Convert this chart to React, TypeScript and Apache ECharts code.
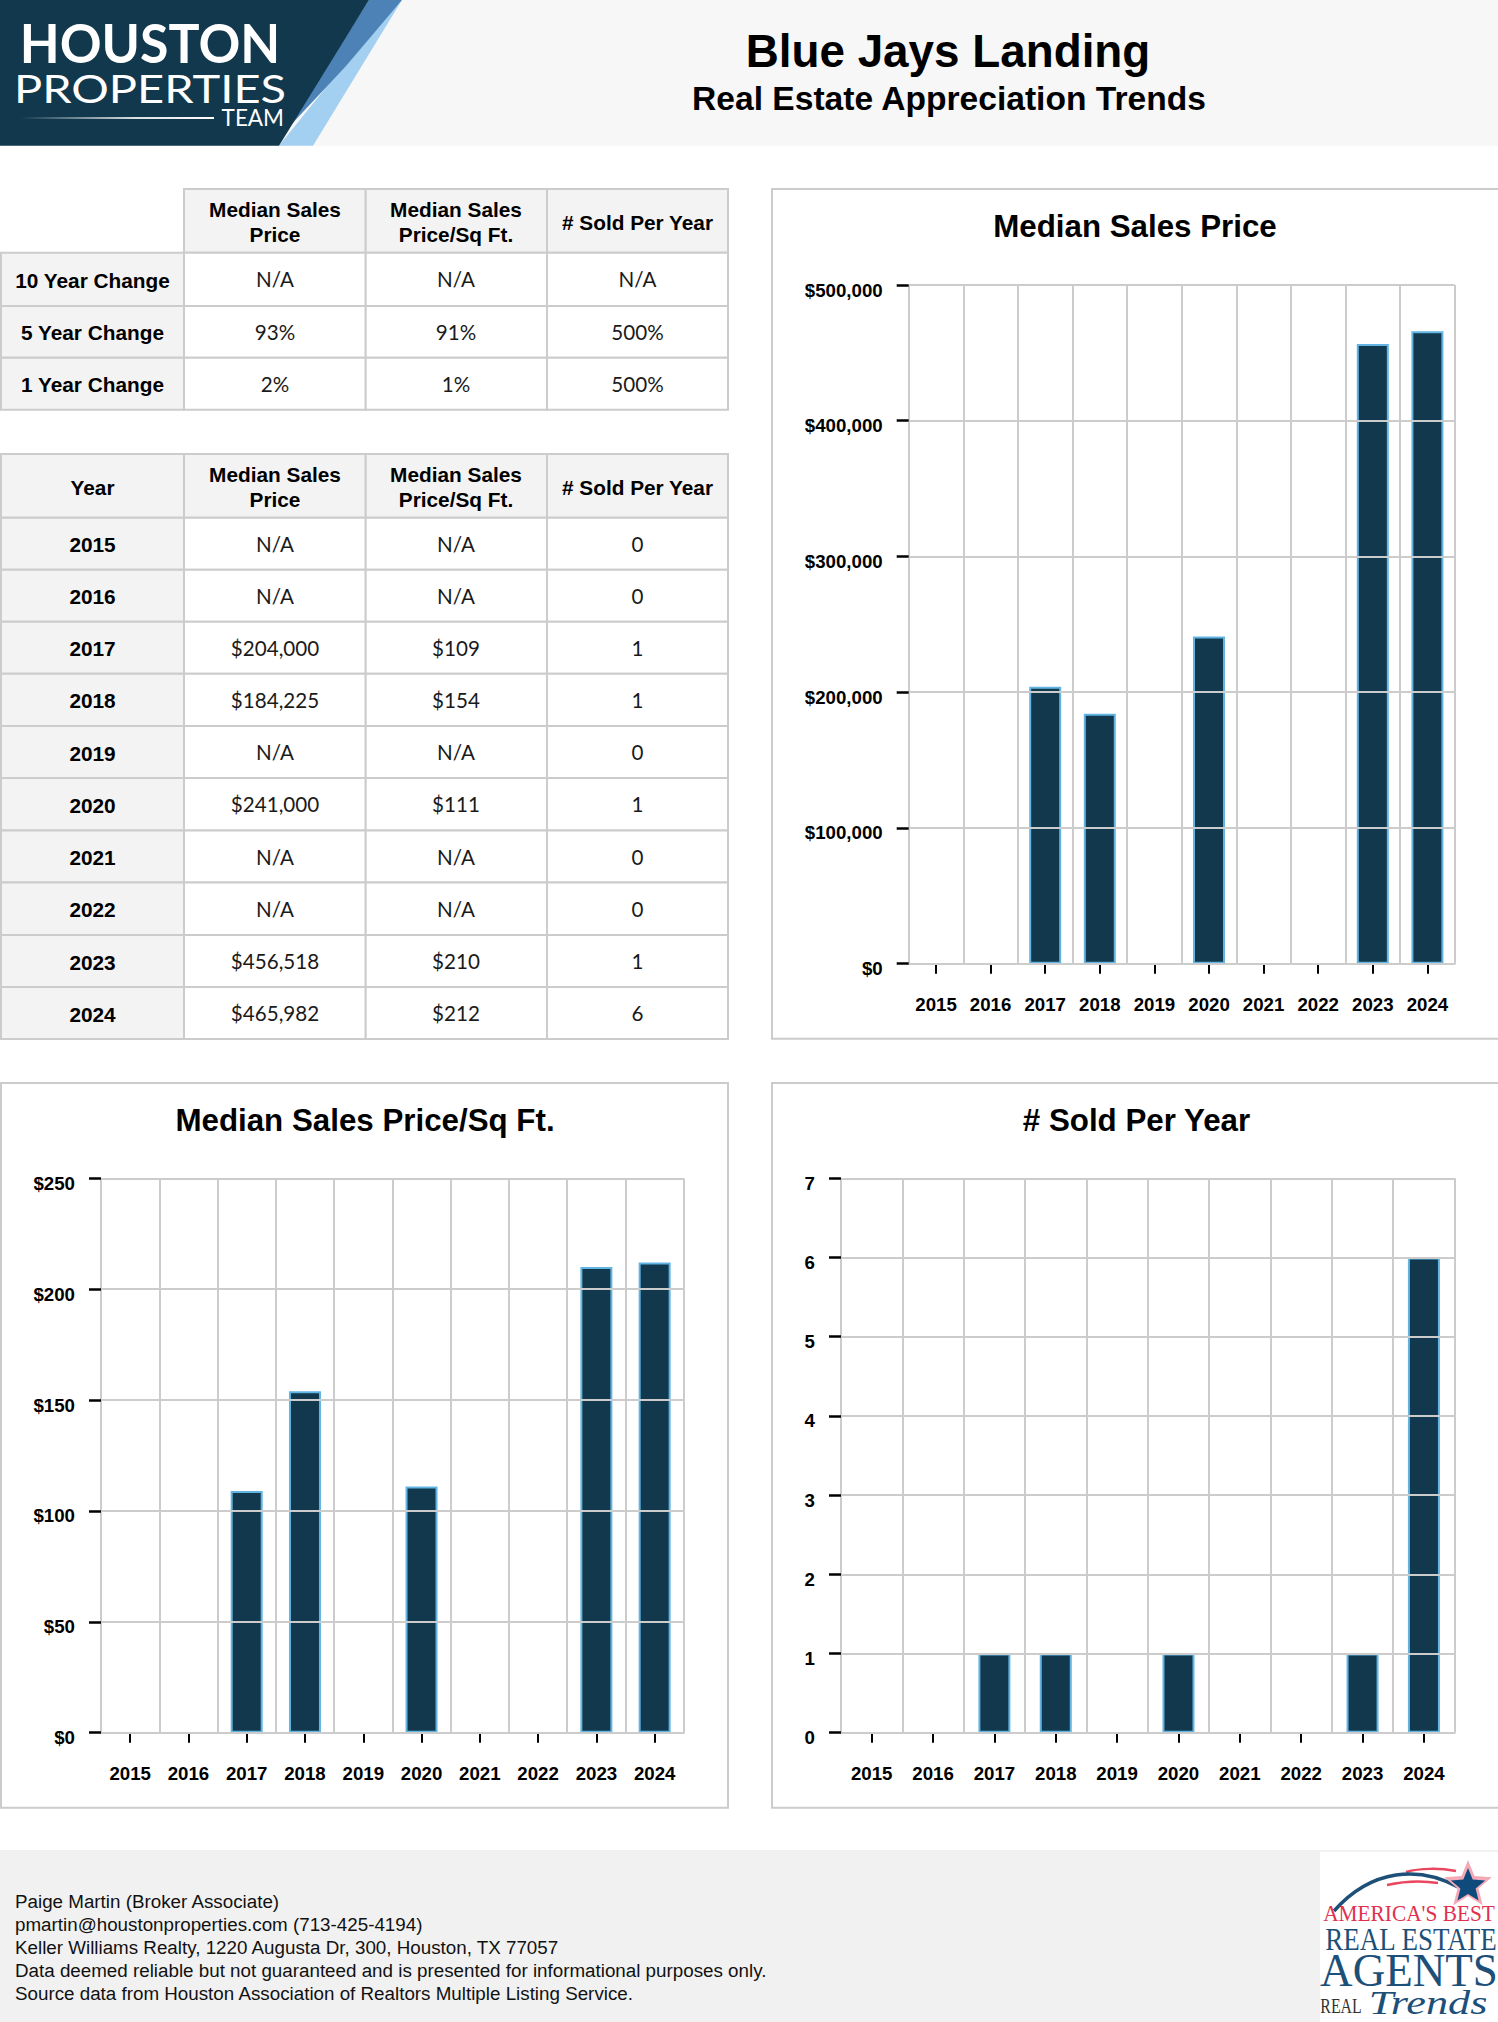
import React, { useEffect, useRef } from "react";
import * as echarts from "echarts";

const years = ["2015", "2016", "2017", "2018", "2019", "2020", "2021", "2022", "2023", "2024"];
const medianPrice = [null, null, 204000, 184225, null, 241000, null, null, 456518, 465982];
const pricePerSqFt = [null, null, 109, 154, null, 111, null, null, 210, 212];
const soldPerYear = [0, 0, 1, 1, 0, 1, 0, 0, 1, 6];
const changeLabels = ["10 Year Change", "5 Year Change", "1 Year Change"];
const changePrice = ["N/A", "93%", "2%"];
const changeSqFt = ["N/A", "91%", "1%"];
const changeSold = ["N/A", "500%", "500%"];
const footerLines = [
  "Paige Martin (Broker Associate)",
  "pmartin@houstonproperties.com (713-425-4194)",
  "Keller Williams Realty, 1220 Augusta Dr, 300, Houston, TX 77057",
  "Data deemed reliable but not guaranteed and is presented for informational purposes only.",
  "Source data from Houston Association of Realtors Multiple Listing Service.",
];

const SANS = "'Liberation Sans', Arial, sans-serif";
const LATO = "Lato, sans-serif";
const SERIF = "'Liberation Serif', serif";
const GRID = "#cccccc";
const NAVY = "#11384d";
const EDGE = "#62b5e3";
const CELL = "#f3f3f3";
const colX = [1, 184, 365.7, 547, 728];
const colC = [92.5, 275, 456, 637.5];

const money = (v: number | null) => (v == null ? "N/A" : "$" + v.toLocaleString("en-US"));

function txt(text: string, x: number, y: number, size: number, o: any = {}) {
  const { scaleX, weight, family, fill, align, italic, ...rest } = o;
  return {
    type: "text",
    z: -1,
    x,
    y,
    scaleX: scaleX ?? 1,
    style: {
      text,
      x: 0,
      y: 0,
      fontSize: size,
      fontWeight: weight ?? "normal",
      fontStyle: italic ? "italic" : "normal",
      fontFamily: family ?? SANS,
      fill: fill ?? "#000",
      align: align ?? "center",
      verticalAlign: "middle",
    },
    ...rest,
  };
}

function box(x0: number, y0: number, x1: number, y1: number, fill: string, stroke?: string) {
  return {
    type: "rect",
    z: -2,
    shape: { x: x0, y: y0, width: x1 - x0, height: y1 - y0 },
    style: { fill, stroke: stroke ?? "none", lineWidth: stroke ? 2 : 0 },
  };
}

function poly(points: number[][], fill: string) {
  return { type: "polygon", z: -1, shape: { points }, style: { fill } };
}

function curve(p: number[], stroke: string, lineWidth: number) {
  return {
    type: "bezierCurve",
    z: -1,
    shape: { x1: p[0], y1: p[1], cpx1: p[2], cpy1: p[3], cpx2: p[4], cpy2: p[5], x2: p[6], y2: p[7] },
    style: { stroke, lineWidth, fill: "none" },
  };
}

function star(cx: number, cy: number, R: number, r: number, fill: string) {
  const pts: number[][] = [];
  for (let i = 0; i < 10; i++) {
    const a = -Math.PI / 2 + (i * Math.PI) / 5;
    const q = i % 2 ? r : R;
    pts.push([cx + q * Math.cos(a), cy + q * Math.sin(a)]);
  }
  return poly(pts, fill);
}

function headerCells(y0: number, y1: number, first: string | null) {
  const out: any[] = [];
  for (let c = first ? 0 : 1; c < 4; c++) out.push(box(colX[c], y0, colX[c + 1], y1, CELL, GRID));
  const mid = (y0 + y1) / 2 + 1.5;
  if (first) out.push(txt(first, colC[0], mid, 20.8, { weight: "bold" }));
  [["Median Sales", "Price"], ["Median Sales", "Price/Sq Ft."]].forEach((l, i) => {
    out.push(txt(l[0], colC[i + 1], mid - 12.5, 20.8, { weight: "bold" }));
    out.push(txt(l[1], colC[i + 1], mid + 12.5, 20.8, { weight: "bold" }));
  });
  out.push(txt("# Sold Per Year", colC[3], mid, 20.8, { weight: "bold" }));
  return out;
}

function rowCells(y0: number, y1: number, cells: string[]) {
  const out: any[] = [];
  const mid = (y0 + y1) / 2;
  out.push(box(colX[0], y0, colX[1], y1, CELL, GRID));
  for (let c = 1; c < 4; c++) out.push(box(colX[c], y0, colX[c + 1], y1, "#fff", GRID));
  out.push(txt(cells[0], colC[0], mid + 1, 20.8, { weight: "bold" }));
  for (let c = 1; c < 4; c++) out.push(txt(cells[c], colC[c], mid, 20.6, { family: LATO, fill: "#1a1a1a" }));
  return out;
}

function buildGraphics() {
  const g: any[] = [];
  // page header
  g.push(box(0, 0, 1498, 145.7, "#f7f7f7"));
  g.push(poly([[402, 0], [313, 145.7], [279, 145.7], [340, 70]], "#a3d0f1"));
  g.push(poly([[369, 0], [402, 0], [346, 66], [288, 128]], "#4c82b6"));
  g.push(poly([[0, 0], [369, 0], [279, 145.7], [0, 145.7]], NAVY));
  g.push(txt("HOUSTON", 150, 42, 54, { family: LATO, weight: "bold", fill: "#fff", scaleX: 0.96 }));
  g.push(txt("PROPERTIES", 150, 88, 39, { family: LATO, fill: "#fff", scaleX: 1.205 }));
  g.push(txt("TEAM", 284, 117.5, 22.5, { family: LATO, fill: "#fff", align: "right" }));
  g.push({
    type: "rect",
    z: -1,
    shape: { x: 20, y: 117, width: 194, height: 2 },
    style: {
      fill: new echarts.graphic.LinearGradient(0, 0, 1, 0, [
        { offset: 0, color: "rgba(255,255,255,0)" },
        { offset: 0.6, color: "rgba(255,255,255,0.85)" },
        { offset: 1, color: "#ffffff" },
      ]),
    },
  });
  g.push(txt("Blue Jays Landing", 948, 51.5, 45.8, { weight: "bold" }));
  g.push(txt("Real Estate Appreciation Trends", 949, 98.5, 33.6, { weight: "bold" }));

  // tables
  g.push(...headerCells(189, 252.7, null));
  const t1 = [252.7, 306, 357.7, 409.7];
  changeLabels.forEach((l, i) => {
    g.push(...rowCells(t1[i], t1[i + 1], [l, changePrice[i], changeSqFt[i], changeSold[i]]));
  });
  g.push(...headerCells(454, 517.7, "Year"));
  const t2 = [517.7, 569.7, 621.7, 673.7, 726, 778, 830.5, 882.5, 935, 987, 1039];
  years.forEach((y, i) => {
    g.push(
      ...rowCells(t2[i], t2[i + 1], [
        y,
        money(medianPrice[i]),
        pricePerSqFt[i] == null ? "N/A" : "$" + pricePerSqFt[i],
        String(soldPerYear[i]),
      ]),
    );
  });

  // chart panels
  g.push(box(772, 189, 1530, 1038.7, "#fff", GRID));
  g.push(box(1, 1083, 728, 1807.7, "#fff", GRID));
  g.push(box(772, 1083, 1530, 1807.7, "#fff", GRID));
  g.push(txt("Median Sales Price", 1135, 226, 31.3, { weight: "bold" }));
  g.push(txt("Median Sales Price/Sq Ft.", 365, 1120, 31.3, { weight: "bold" }));
  g.push(txt("# Sold Per Year", 1136.5, 1120, 31.3, { weight: "bold" }));

  // footer
  g.push(box(0, 1850, 1498, 2022, "#f1f1f1"));
  footerLines.forEach((l, i) => {
    g.push(txt(l, 15, 1901.7 + i * 23, 18.8, { align: "left", fill: "#111" }));
  });
  g.push(box(1320, 1852, 1498, 2022, "#fff"));
  g.push(curve([1406, 1872, 1420, 1868, 1440, 1868, 1456, 1871], "#e8475f", 2.5));
  g.push(curve([1387, 1885, 1405, 1881, 1425, 1881, 1438, 1883], "#e8475f", 2.5));
  g.push(curve([1334, 1911, 1372, 1868, 1420, 1866, 1458, 1887], "#1d5078", 3.5));
  g.push(star(1468, 1885, 25, 11, "#f4a9b6"));
  g.push(star(1468, 1886, 18, 8, "#0f4a7d"));
  g.push(txt("AMERICA'S BEST", 1409, 1913, 24, { family: SERIF, fill: "#e0304f", scaleX: 0.89 }));
  g.push(txt("REAL ESTATE", 1411, 1939, 31, { family: SERIF, fill: "#1d5078", scaleX: 0.87 }));
  g.push(txt("AGENTS", 1409, 1970, 47, { family: SERIF, fill: "#1d5078", scaleX: 0.96 }));
  g.push(txt("REAL", 1341, 2006, 22, { family: SERIF, fill: "#333", scaleX: 0.72 }));
  g.push(txt("Trends", 1428, 2003, 34, { family: SERIF, italic: true, fill: "#1d5078", scaleX: 1.3 }));
  return g;
}

const axisFont = { fontFamily: SANS, fontWeight: "bold" as const, fontSize: 18.67, color: "#000" };

function panelAxes(gridIndex: number, max: number, interval: number, fmt: (v: number) => string) {
  const mainX = {
    type: "category",
    gridIndex,
    position: "bottom",
    data: years,
    z: 3,
    axisLine: { show: true, lineStyle: { color: GRID, width: 2 } },
    axisTick: { show: false },
    axisLabel: { ...axisFont, interval: 0, margin: 31, hideOverlap: false },
    splitLine: { show: true, interval: 0, lineStyle: { color: GRID, width: 2 } },
  };
  const tickX = {
    type: "category",
    gridIndex,
    position: "bottom",
    data: years,
    z: 2,
    axisLine: { show: false },
    axisTick: { show: true, alignWithLabel: true, interval: 0, length: 10, lineStyle: { color: "#000", width: 2 } },
    axisLabel: { show: false },
    splitLine: { show: false },
  };
  const y = {
    type: "value",
    gridIndex,
    min: 0,
    max,
    interval,
    z: 3,
    axisLine: { show: false },
    axisTick: { show: true, length: 12, lineStyle: { color: "#000", width: 2.5 } },
    axisLabel: { ...axisFont, margin: 26, formatter: fmt, verticalAlign: "top", lineHeight: 10 },
    splitLine: { show: true, lineStyle: { color: GRID, width: 2 } },
  };
  return { x: [mainX, tickX], y };
}

function barSeries(index: number, values: (number | null)[]) {
  return {
    type: "bar",
    xAxisIndex: index * 2,
    yAxisIndex: index,
    data: values.map((v) => (v ? v : null)),
    barWidth: 32,
    z: 2,
    itemStyle: { color: NAVY, borderColor: EDGE, borderWidth: 2 },
  };
}

export default function App() {
  const ref = useRef<HTMLDivElement>(null);
  useEffect(() => {
    document.body.style.margin = "0";
    const chart = echarts.init(ref.current!, undefined, { renderer: "svg" });
    const a = panelAxes(0, 500000, 100000, (v) => "$" + v.toLocaleString("en-US"));
    const b = panelAxes(1, 250, 50, (v) => "$" + v);
    const c = panelAxes(2, 7, 1, (v) => String(v));
    chart.setOption({
      animation: false,
      backgroundColor: "#fff",
      grid: [
        { left: 908.7, top: 285, width: 546, height: 678.7 },
        { left: 101, top: 1178.3, width: 582.8, height: 554.4 },
        { left: 841, top: 1178.3, width: 613.6, height: 554.4 },
      ],
      xAxis: [...a.x, ...b.x, ...c.x],
      yAxis: [a.y, b.y, c.y],
      series: [barSeries(0, medianPrice), barSeries(1, pricePerSqFt), barSeries(2, soldPerYear)],
      graphic: { elements: buildGraphics() },
    });
    return () => chart.dispose();
  }, []);
  return <div ref={ref} style={{ width: 1498, height: 2022 }} />;
}
